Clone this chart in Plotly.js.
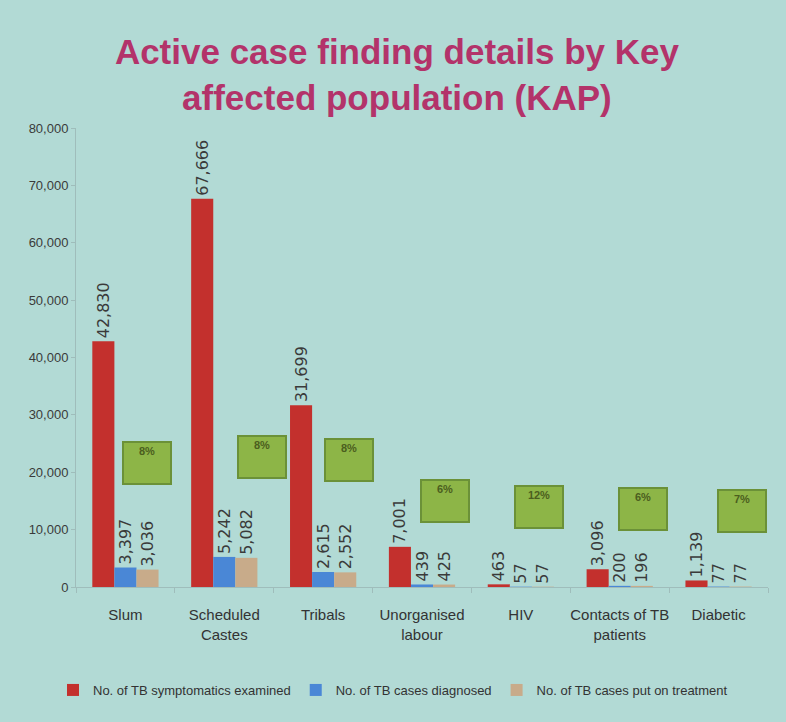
<!DOCTYPE html>
<html>
<head>
<meta charset="utf-8">
<script src="https://cdn.plot.ly/plotly-3.0.1.min.js"></script>
<style>
html,body{margin:0;padding:0;background:#b2dad5;}
#chart{width:786px;height:722px;}
</style>
</head>
<body>
<div id="chart"></div>
<script>
// ---- data ----
const categories = ["Slum", "Scheduled<br>Castes", "Tribals", "Unorganised<br>labour", "HIV", "Contacts of TB<br>patients", "Diabetic"];
const symptomaticsExamined = [42830, 67666, 31699, 7001, 463, 3096, 1139];
const casesDiagnosed = [3397, 5242, 2615, 439, 57, 200, 77];
const casesOnTreatment = [3036, 5082, 2552, 425, 57, 196, 77];
const positivityPct = ["8%", "8%", "8%", "6%", "12%", "6%", "7%"];
const seriesNames = ["No. of TB symptomatics examined", "No. of TB cases diagnosed", "No. of TB cases put on treatment"];

// ---- layout helpers (positions of the % boxes, in axis units) ----
const boxY = [21600, 22600, 22100, 15000, 13900, 13600, 13300];
const boxShift = [22, 38, 26, 23, 18, 23, 23];

const labelFont = {family: "DejaVu Sans, sans-serif", size: 16, color: "#3a3a3a"};
function barTrace(vals, name, color) {
  return {
    type: "bar", x: categories, y: vals, name: name,
    marker: {color: color},
    text: vals.map(v => v.toLocaleString("en-US")),
    textposition: "outside", textangle: -90,
    textfont: labelFont, constraintext: "none", cliponaxis: false,
    hoverinfo: "x+y"
  };
}
const traces = [
  barTrace(symptomaticsExamined, seriesNames[0], "#c3302d"),
  barTrace(casesDiagnosed, seriesNames[1], "#4a87d6"),
  barTrace(casesOnTreatment, seriesNames[2], "#c8ab8a")
];

const annotations = categories.map((c, i) => ({
  x: c, y: boxY[i], xref: "x", yref: "y", xshift: boxShift[i],
  text: "<b>" + positivityPct[i] + "</b>", showarrow: false,
  width: 42, height: 36, valign: "top",
  bgcolor: "#8db547", bordercolor: "#6b9138", borderwidth: 2, borderpad: 2,
  font: {family: "Liberation Sans, sans-serif", size: 11, color: "#4b5e1e"}
}));

const layout = {
  width: 786, height: 722,
  paper_bgcolor: "#b2dad5", plot_bgcolor: "#b2dad5",
  margin: {l: 76, r: 18, t: 128, b: 135},
  title: {
    text: "<b>Active case finding details by Key<br>affected population (KAP)</b>",
    font: {family: "Liberation Sans, Arial, sans-serif", size: 35, color: "#b3336a"},
    x: 0.505, xref: "container", xanchor: "center",
    y: 1 - 64/722, yref: "container", yanchor: "middle"
  },
  barmode: "group", bargap: 0.33, bargroupgap: 0,
  showlegend: true,
  legend: {
    orientation: "h", xref: "container", x: 0.5, xanchor: "center",
    yref: "container", y: 1 - 690/722, yanchor: "middle",
    font: {family: "Liberation Sans, sans-serif", size: 13, color: "#333"},
    itemwidth: 30, tracegroupgap: 0, bgcolor: "rgba(0,0,0,0)"
  },
  xaxis: {
    type: "category", tickson: "boundaries", ticks: "outside", ticklen: 5,
    tickangle: 0, ticklabelstandoff: 14,
    tickcolor: "#9fbdbb", showline: true, linecolor: "#9fbdbb", linewidth: 1,
    showgrid: false, zeroline: false,
    tickfont: {family: "Liberation Sans, sans-serif", size: 15, color: "#333"}
  },
  yaxis: {
    range: [0, 80000], dtick: 10000, tickformat: ",d",
    ticks: "outside", ticklen: 4, tickcolor: "#9fbdbb",
    showline: true, linecolor: "#9fbdbb", linewidth: 1,
    showgrid: false, zeroline: false,
    tickfont: {family: "Liberation Sans, sans-serif", size: 13, color: "#3a3a3a"}
  },
  annotations: annotations
};

Plotly.newPlot("chart", traces, layout, {displayModeBar: false, staticPlot: true});
</script>
</body>
</html>
